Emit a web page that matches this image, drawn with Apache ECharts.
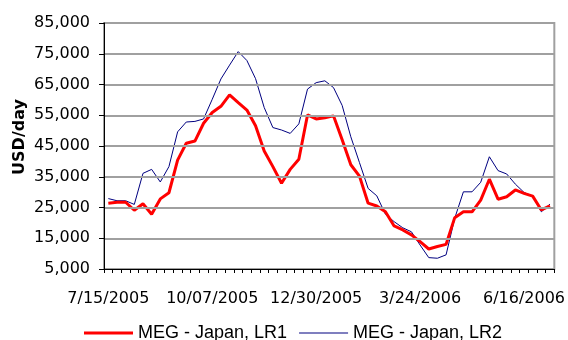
<!DOCTYPE html>
<html>
<head>
<meta charset="utf-8">
<script src="https://cdn.jsdelivr.net/npm/echarts@6/dist/echarts.min.js"></script>
<style>
  html, body { margin: 0; padding: 0; background: #fff; }
  #chart { width: 568px; height: 340px; }
</style>
</head>
<body>
<div id="chart"></div>
<script>
// Weekly voyage dates (category axis)
const weeks = [
  '7/15/2005', '7/22/2005', '7/29/2005', '8/05/2005', '8/12/2005', '8/19/2005', '8/26/2005',
  '9/02/2005', '9/09/2005', '9/16/2005', '9/23/2005', '9/30/2005',
  '10/07/2005', '10/14/2005', '10/21/2005', '10/28/2005',
  '11/04/2005', '11/11/2005', '11/18/2005', '11/25/2005',
  '12/02/2005', '12/09/2005', '12/16/2005', '12/23/2005', '12/30/2005',
  '1/06/2006', '1/13/2006', '1/20/2006', '1/27/2006',
  '2/03/2006', '2/10/2006', '2/17/2006', '2/24/2006',
  '3/03/2006', '3/10/2006', '3/17/2006', '3/24/2006', '3/31/2006',
  '4/07/2006', '4/14/2006', '4/21/2006', '4/28/2006',
  '5/05/2006', '5/12/2006', '5/19/2006', '5/26/2006',
  '6/02/2006', '6/09/2006', '6/16/2006', '6/23/2006', '6/30/2006', '7/07/2006'
];

// MEG - Japan, LR1 earnings (USD/day)
const lr1 = [
  26400, 26700, 26700, 24100, 26200, 22800, 27800, 29800, 40400, 45900,
  46600, 52400, 55900, 57900, 61600, 59100, 56700, 51600, 43400, 38300,
  32900, 37400, 40700, 55100, 53800, 54200, 54800, 47000, 38900, 35200,
  26400, 25500, 23600, 19000, 17700, 16100, 13900, 11500, 12300, 13000,
  21700, 23600, 23600, 27400, 34200, 27700, 28500, 30700, 29600, 28700,
  24200, 25500
];

// MEG - Japan, LR2 earnings (USD/day)
const lr2 = [
  27900, 27200, 27200, 26000, 36100, 37400, 33300, 38300, 49600, 52800,
  53000, 53800, 60200, 66800, 71300, 75700, 72800, 66900, 57500, 51000,
  50200, 49100, 52200, 63500, 65600, 66200, 64000, 58200, 48000, 39600,
  31200, 28800, 22800, 20400, 18400, 17100, 12800, 8700, 8500, 9600,
  21500, 30100, 30100, 33200, 41500, 37000, 35900, 32600, 29900, 28700,
  23600, 26100
];

// Value-axis ticks, labels and gridlines
const yTicks = [5000, 15000, 25000, 35000, 45000, 55000, 65000, 75000, 85000];

const axisFont = 'DejaVu Sans';
const gridGray = '#a0a0a0';

const chart = echarts.init(document.getElementById('chart'), null, { renderer: 'canvas' });

chart.setOption({
  animation: false,
  backgroundColor: '#ffffff',
  grid: {
    left: 104, right: 10, top: 23, bottom: 71,
    show: true, borderColor: gridGray, borderWidth: 2
  },
  legend: {
    left: 79,
    top: 319,
    itemWidth: 49,
    itemHeight: 14,
    itemGap: 12,
    textStyle: { fontFamily: 'Liberation Sans', fontSize: 18, color: '#000' },
    data: [
      { name: 'MEG - Japan, LR1', icon: 'path://M0,0H49V3H0Z' },
      { name: 'MEG - Japan, LR2', icon: 'path://M0,0H49V1H0Z' }
    ]
  },
  xAxis: {
    type: 'category',
    data: weeks,
    boundaryGap: true,
    axisLine: { lineStyle: { color: '#000', width: 1 } },
    axisTick: { show: true, interval: 0, length: 4, lineStyle: { color: '#000' } },
    axisLabel: {
      interval: 11,
      margin: 22,
      fontFamily: axisFont,
      fontSize: 16,
      color: '#000'
    },
    splitLine: { show: false },
    z: 4
  },
  yAxis: {
    type: 'value',
    min: 5000,
    max: 85000,
    interval: 5000,
    axisLine: { show: true, lineStyle: { color: '#000', width: 1 } },
    axisTick: {
      show: true, length: 5, lineStyle: { color: '#000' },
      customValues: yTicks
    },
    axisLabel: {
      customValues: yTicks,
      margin: 14,
      fontFamily: axisFont,
      fontSize: 16,
      color: '#000',
      formatter: v => v.toLocaleString('en-US')
    },
    splitLine: { show: true, lineStyle: { color: gridGray, width: 2 } },
    z: 4
  },
  graphic: [{
    type: 'text',
    x: 20,
    y: 137,
    rotation: Math.PI / 2,
    style: {
      text: 'USD/day',
      fontFamily: axisFont,
      fontWeight: 'bold',
      fontSize: 16,
      fill: '#000',
      align: 'center',
      verticalAlign: 'middle'
    }
  }],
  series: [
    {
      name: 'MEG - Japan, LR1',
      type: 'line',
      data: lr1,
      symbol: 'none',
      lineStyle: { color: '#ff0000', width: 3 },
      itemStyle: { color: '#ff0000' },
      z: 3
    },
    {
      name: 'MEG - Japan, LR2',
      type: 'line',
      data: lr2,
      symbol: 'none',
      lineStyle: { color: '#000080', width: 1 },
      itemStyle: { color: '#000080' },
      z: 2
    }
  ]
});
</script>
</body>
</html>
